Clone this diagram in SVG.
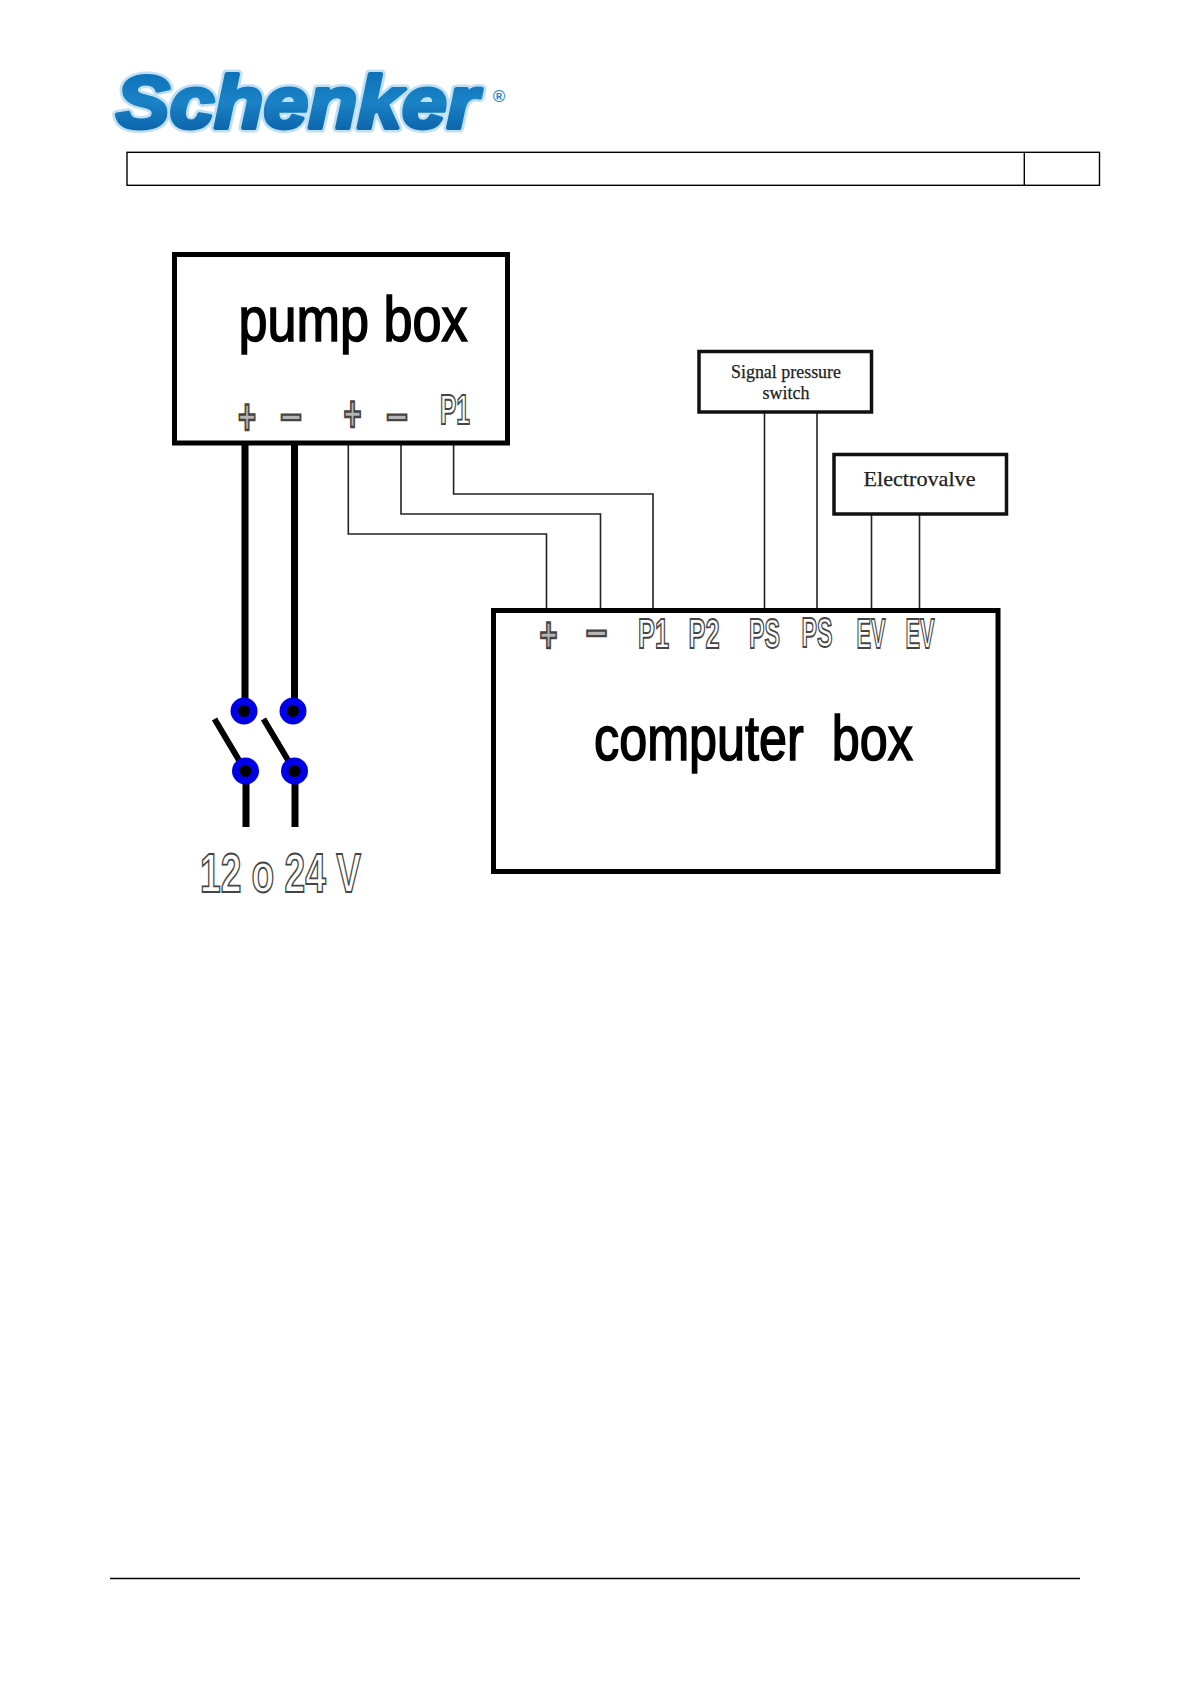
<svg xmlns="http://www.w3.org/2000/svg" width="1191" height="1684" viewBox="0 0 1191 1684">
<defs>
<linearGradient id="logoBlue" x1="0" y1="0" x2="0" y2="1">
<stop offset="0" stop-color="#0a6cb4"/><stop offset="0.5" stop-color="#1a82c6"/><stop offset="1" stop-color="#07589f"/>
</linearGradient>
</defs>
<style>
.box{fill:#fff;stroke:#000;stroke-width:5}
.small{fill:#fff;stroke:#111;stroke-width:3.5}
.thin{fill:none;stroke:#222;stroke-width:1.6}
.thick{fill:none;stroke:#000;stroke-width:7}
.arm{fill:none;stroke:#000;stroke-width:6}
.rule{fill:none;stroke:#000;stroke-width:1.4}
.big{font-family:"Liberation Sans",Arial,sans-serif;font-size:63px;fill:#000;stroke:#000;stroke-width:1.6;white-space:pre}
.term{font-family:"Liberation Sans",Arial,sans-serif;font-weight:700;font-size:42px;fill:#fff;stroke:#444;stroke-width:1.9;text-anchor:middle}
.sign{font-family:"Liberation Sans",Arial,sans-serif;font-weight:700;font-size:50px;fill:#b5b5b5;stroke:#444;stroke-width:2.4;text-anchor:middle}
.serif{font-family:"Liberation Serif","Times New Roman",serif;fill:#222;stroke:#222;stroke-width:.25;text-anchor:middle}
.outer{fill:#0000e6}
.inner{fill:#000}
</style>
<g id="logo">
<text x="116" y="128" font-family="Liberation Sans,Arial,sans-serif" font-weight="700" font-style="italic" font-size="75" textLength="362" lengthAdjust="spacingAndGlyphs" fill="none" stroke="#bfe0f5" stroke-width="9" stroke-linejoin="round">Schenker</text>
<text x="116" y="128" font-family="Liberation Sans,Arial,sans-serif" font-weight="700" font-style="italic" font-size="75" textLength="362" lengthAdjust="spacingAndGlyphs" fill="url(#logoBlue)" stroke="url(#logoBlue)" stroke-width="4" stroke-linejoin="round">Schenker</text>
<text x="499" y="102" font-family="Liberation Sans,Arial,sans-serif" font-weight="700" font-size="17" fill="#2a86c8" text-anchor="middle">®</text>
</g>
<g id="header-table">
<rect class="rule" x="127" y="152.3" width="972.5" height="33"/>
<line class="rule" x1="1024.3" y1="152.3" x2="1024.3" y2="185.3"/>
</g>
<line id="footer-rule" class="rule" x1="110" y1="1578.500" x2="1080" y2="1578.500"/>
<g id="connectors">
<path class="thick" d="M245 443V711"/>
<path class="thick" d="M294.500 443V711"/>
<path class="thick" d="M246 771V827"/>
<path class="thick" d="M295 771V827"/>
<path class="arm" d="M214.500 719L239.500 761"/>
<path class="arm" d="M263.500 719L288.500 761"/>
<path class="thin" d="M348.300 443V534H546.500V610"/>
<path class="thin" d="M401 443V514H600.500V610"/>
<path class="thin" d="M453.600 443V494H653V610"/>
<path class="thin" d="M764.500 413V610"/>
<path class="thin" d="M817 413V610"/>
<path class="thin" d="M871.500 515V610"/>
<path class="thin" d="M919.500 515V610"/>
</g>
<g id="pump-box">
<rect class="box" x="174.500" y="254.500" width="333" height="188.500"/>
<text class="big" x="238.600" y="341" textLength="229" lengthAdjust="spacingAndGlyphs">pump box</text>
<text class="sign" x="247" y="434" textLength="18" lengthAdjust="spacingAndGlyphs">+</text>
<text class="sign" x="291" y="434" textLength="22" lengthAdjust="spacingAndGlyphs">−</text>
<text class="sign" x="352.600" y="431" textLength="18" lengthAdjust="spacingAndGlyphs">+</text>
<text class="sign" x="397" y="434" textLength="22" lengthAdjust="spacingAndGlyphs">−</text>
<text class="term" x="455" y="423.500" textLength="30" lengthAdjust="spacingAndGlyphs">P1</text>
</g>
<g id="computer-box">
<rect class="box" x="493.500" y="610.500" width="504.500" height="261"/>
<text class="big" x="594" y="760" textLength="319" lengthAdjust="spacingAndGlyphs">computer  box</text>
<text class="sign" x="548.600" y="652" textLength="18" lengthAdjust="spacingAndGlyphs">+</text>
<text class="sign" x="596.600" y="650" textLength="22" lengthAdjust="spacingAndGlyphs">−</text>
<text class="term" x="653.600" y="647.500" textLength="31" lengthAdjust="spacingAndGlyphs">P1</text>
<text class="term" x="704" y="647.500" textLength="31" lengthAdjust="spacingAndGlyphs">P2</text>
<text class="term" x="764.500" y="647.500" textLength="31" lengthAdjust="spacingAndGlyphs">PS</text>
<text class="term" x="817" y="646.500" textLength="31" lengthAdjust="spacingAndGlyphs">PS</text>
<text class="term" transform="translate(871 647.500) scale(.52 1)">EV</text>
<text class="term" transform="translate(920 647.500) scale(.52 1)">EV</text>
</g>
<g id="signal-pressure-switch">
<rect class="small" x="699" y="351.500" width="172.500" height="60.500"/>
<text class="serif" x="786" y="377.500" font-size="18.500" textLength="110" lengthAdjust="spacingAndGlyphs">Signal pressure</text>
<text class="serif" x="786" y="398.500" font-size="18.500" textLength="47" lengthAdjust="spacingAndGlyphs">switch</text>
</g>
<g id="electrovalve">
<rect class="small" x="834" y="454.500" width="172.500" height="59.500"/>
<text class="serif" x="919.500" y="485.500" font-size="22" textLength="112" lengthAdjust="spacingAndGlyphs">Electrovalve</text>
</g>
<g id="switch-1">
<circle class="outer" cx="244" cy="711" r="13.500"/><circle class="inner" cx="244" cy="711" r="6"/>
<circle class="outer" cx="245.500" cy="771" r="13.500"/><circle class="inner" cx="245.500" cy="771" r="6"/>
</g>
<g id="switch-2">
<circle class="outer" cx="293" cy="711" r="13.500"/><circle class="inner" cx="293" cy="711" r="6"/>
<circle class="outer" cx="294.500" cy="771" r="13.500"/><circle class="inner" cx="294.500" cy="771" r="6"/>
</g>
<g id="voltage-label">
<text x="200" y="892" font-family="Liberation Sans,Arial,sans-serif" font-weight="700" font-size="56" textLength="161" lengthAdjust="spacingAndGlyphs" fill="#fff" stroke="#444" stroke-width="1.8">12 o 24 V</text>
</g>
</svg>
